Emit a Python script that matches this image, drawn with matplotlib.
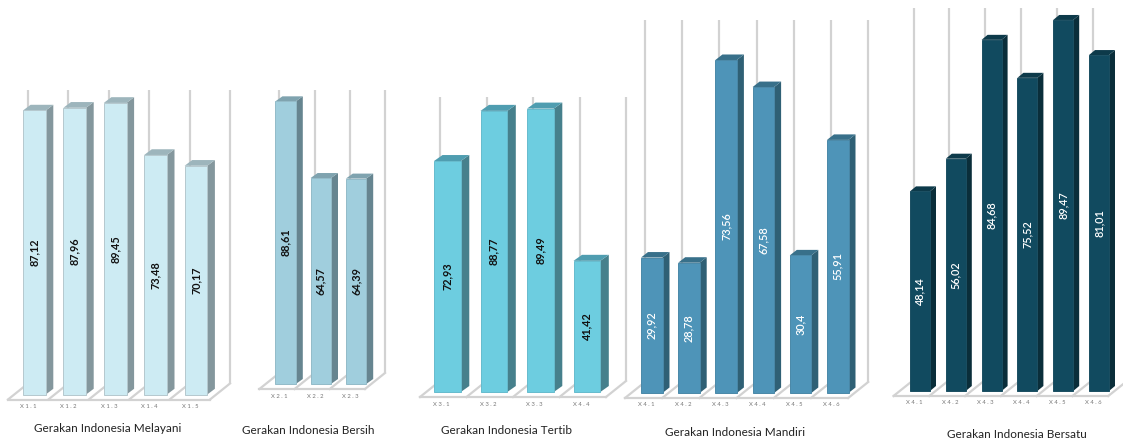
import matplotlib
matplotlib.use("Agg")
import matplotlib.pyplot as plt
from matplotlib.patches import Polygon

W, H = 1123, 443

titles = ["Gerakan Indonesia Melayani", "Gerakan Indonesia Bersih", "Gerakan Indonesia Tertib",
          "Gerakan Indonesia Mandiri", "Gerakan Indonesia Bersatu"]
cats1 = ["X1.1", "X1.2", "X1.3", "X1.4", "X1.5"]
vals1 = [87.12, 87.96, 89.45, 73.48, 70.17]
cats2 = ["X2.1", "X2.2", "X2.3"]
vals2 = [88.61, 64.57, 64.39]
cats3 = ["X3.1", "X3.2", "X3.3", "X4.4"]
vals3 = [72.93, 88.77, 89.49, 41.42]
cats4 = ["X4.1", "X4.2", "X4.3", "X4.4", "X4.5", "X4.6"]
labels4 = ["29,92", "28,78", "73,56", "67,58", "30,4", "55,91"]
vals4 = [29.92, 28.78, 73.56, 67.58, 30.4, 55.91]
cats5 = ["X4.1", "X4.2", "X4.3", "X4.4", "X4.5", "X4.6"]
vals5 = [48.14, 56.02, 84.68, 75.52, 89.47, 81.01]


def comma(values):
    return [f"{v:.2f}".replace(".", ",") for v in values]


# x0/bw/p: first bar's left edge, bar width, pitch; base/k: baseline and px per unit;
# top: grid top; gof: grid offset from a bar's left edge; dx/dy: bar depth; tx/ty: title centre
panels = [
    dict(c=cats1, v=vals1, l=comma(vals1), t=titles[0], x0=23, bw=22.7, p=40.4, base=394.5, k=3.26, top=90,
         gof=5, dx=7.6, dy=5.7, tx=107.5, ty=429,
         face="#CDEBF3", side="#84979D", cap="#9DB5BC", txt="#111111", edge="#B5C8CE"),
    dict(c=cats2, v=vals2, l=comma(vals2), t=titles[1], x0=275.4, bw=20.4, p=35.2, base=384, k=3.19, top=90,
         gof=4, dx=7, dy=5, tx=308, ty=431,
         face="#A0CEDD", side="#668590", cap="#7FA3AF", txt="#111111", edge="#93BBC8"),
    dict(c=cats3, v=vals3, l=comma(vals3), t=titles[2], x0=434, bw=26.8, p=46.5, base=392, k=3.167, top=97,
         gof=6, dx=8.5, dy=6, tx=506.5, ty=431,
         face="#6DCDE0", side="#46808C", cap="#4F9DB0", txt="#111111", edge="#66BBCD"),
    dict(c=cats4, v=vals4, l=labels4, t=titles[3], x0=641, bw=21.5, p=37.2, base=393, k=4.527, top=20,
         gof=4, dx=7, dy=5.5, tx=735, ty=433,
         face="#4E94B8", side="#2F6075", cap="#38708A", txt="#FFFFFF", edge="#4A88A8"),
    dict(c=cats5, v=vals5, l=comma(vals5), t=titles[4], x0=910, bw=20, p=35.8, base=391, k=4.147, top=8,
         gof=3.5, dx=6, dy=5, tx=1017, ty=434,
         face="#114A5F", side="#0A2E3A", cap="#0D3A4A", txt="#FFFFFF", edge="#1B4F62"),
]

fig = plt.figure(figsize=(W / 100, H / 100), dpi=100, facecolor="white")
plt.rcParams["font.family"] = ["Lato", "DejaVu Sans"]

GRID = "#D2D2D2"
FLOOR_DX, FLOOR_DY = 20, 16   # floor depth, px
FRONT = 5                     # floor front edge below the bars, px

for pn in panels:
    n = len(pn["v"])
    gap = pn["p"] - pn["bw"]
    left = pn["x0"] - gap / 2
    width = pn["p"] * n
    height = pn["base"] - pn["top"]
    ax = fig.add_axes([left / W, 1 - pn["base"] / H, width / W, height / H])
    ax.set_xlim(-0.5, n - 0.5)
    ax.set_ylim(0, height / pn["k"])
    ax.axis("off")
    ax.patch.set_alpha(0)

    ux = 1 / pn["p"]      # data units per px, horizontal
    uy = 1 / pn["k"]      # data units per px, vertical
    bar_w = pn["bw"] * ux
    ymax = height * uy
    dx, dy = pn["dx"] * ux, pn["dy"] * uy

    # back wall rules and floor cells
    y_front = -FRONT * uy
    y_back = (FLOOR_DY - FRONT) * uy
    first = -bar_w / 2 + pn["gof"] * ux
    for i in range(n + 1):
        gx = first + i
        ax.plot([gx, gx], [y_back, ymax], color=GRID, lw=1.6, clip_on=False, zorder=1, solid_capstyle="butt")
        ax.plot([gx, gx - FLOOR_DX * ux], [y_back, y_front], color=GRID, lw=1.6, clip_on=False, zorder=1)
    ax.plot([first - FLOOR_DX * ux, first + n - FLOOR_DX * ux], [y_front, y_front],
            color=GRID, lw=1.6, clip_on=False, zorder=1)

    # bars: front face from the values, side and top faces offset by the depth
    for i, (val, lab, cat) in enumerate(zip(pn["v"], pn["l"], pn["c"])):
        xl, xr = i - bar_w / 2, i + bar_w / 2
        ax.add_patch(Polygon([(xr, 0), (xr + dx, dy), (xr + dx, val + dy), (xr, val)],
                             fc=pn["side"], ec="none", clip_on=False, zorder=3))
        ax.add_patch(Polygon([(xl, val), (xr, val), (xr + dx, val + dy), (xl + dx, val + dy)],
                             fc=pn["cap"], ec="none", clip_on=False, zorder=3))
        ax.bar(i, val, width=bar_w, color=pn["face"], edgecolor=pn["edge"], linewidth=0.7, zorder=4, clip_on=False)
        ax.text(i, val / 2, lab, rotation=90, ha="center", va="center", fontsize=7.8,
                fontweight="bold" if pn["txt"] != "#FFFFFF" else "semibold", color=pn["txt"], zorder=5)
        ax.text(i - 6 * ux, -12 * uy, " ".join(cat[:2]) + " " + " ".join(cat[2:]), ha="center", va="center",
                fontsize=4.2, color="#777777", clip_on=False)

    fig.text(pn["tx"] / W, 1 - pn["ty"] / H, pn["t"], ha="center", va="center", fontsize=8.5, color="#222222")

fig.savefig("out.png", dpi=100)
